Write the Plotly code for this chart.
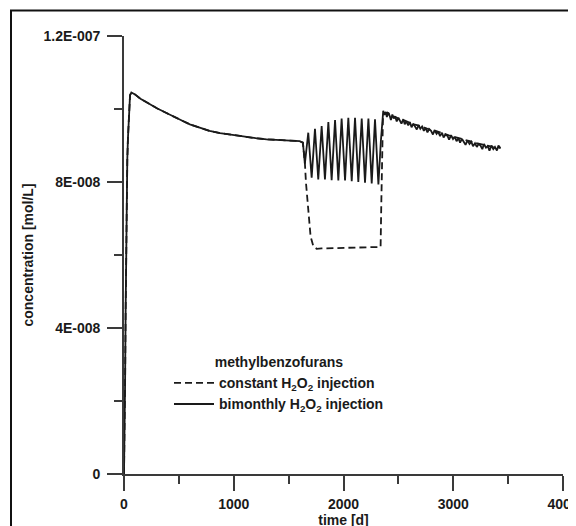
import plotly.graph_objects as go

UNIT = 1e-8  # values below are in 1e-8 mol/L

# shared start: rise and slow decay (days, 1e-8 mol/L)
t_common = [0, 5, 10, 15, 20, 25, 30, 36, 46, 55, 67, 100, 150, 235, 300, 387, 450, 536,
            600, 690, 780, 875, 1000, 1100, 1200, 1300, 1400, 1500, 1600, 1630]
c_common = [0.0, 1.0, 2.5, 4.5, 6.5, 7.8, 8.6, 9.2, 10.15, 10.38, 10.45, 10.40, 10.28, 10.13,
            10.02, 9.89, 9.79, 9.67, 9.58, 9.48, 9.40, 9.34, 9.28, 9.24, 9.20, 9.17, 9.15,
            9.13, 9.12, 9.08]

# bimonthly injection: oscillation phase
t_osc = [1648, 1679, 1710, 1740, 1770, 1801, 1831, 1862, 1892, 1923, 1953, 1983, 2014, 2044,
         2075, 2105, 2135, 2166, 2196, 2227, 2257, 2287, 2318, 2340]
c_osc = [8.50, 9.35, 8.12, 9.46, 8.07, 9.53, 8.07, 9.64, 8.05, 9.70, 8.04, 9.74, 8.04, 9.76,
         8.02, 9.76, 8.00, 9.74, 7.98, 9.74, 7.96, 9.72, 7.93, 9.10]

# bimonthly injection: after stop (irregular)
t_tail = [2362, 2372, 2385, 2395, 2408, 2420, 2432, 2445, 2458, 2470, 2485, 2500, 2512, 2528,
          2545, 2558, 2572, 2590, 2605, 2620, 2636, 2650, 2668, 2685, 2700, 2716, 2732, 2748,
          2765, 2780, 2798, 2815, 2830, 2848, 2862, 2880, 2898, 2912, 2930, 2948, 2962, 2980,
          2998, 3012, 3030, 3048, 3062, 3080, 3098, 3112, 3130, 3148, 3165, 3180, 3198, 3215,
          3230, 3248, 3265, 3280, 3298, 3315, 3330, 3348, 3365, 3380, 3398, 3412, 3430]
c_tail = [9.95, 9.84, 9.92, 9.78, 9.90, 9.82, 9.70, 9.85, 9.74, 9.80, 9.66, 9.76, 9.70, 9.60,
          9.72, 9.58, 9.66, 9.55, 9.64, 9.50, 9.60, 9.52, 9.44, 9.56, 9.46, 9.52, 9.40, 9.48,
          9.36, 9.45, 9.40, 9.30, 9.42, 9.32, 9.38, 9.26, 9.35, 9.22, 9.30, 9.26, 9.16, 9.28,
          9.18, 9.24, 9.12, 9.20, 9.08, 9.18, 9.10, 9.02, 9.14, 9.04, 9.10, 8.98, 9.06, 8.96,
          9.04, 9.00, 8.90, 9.04, 8.94, 8.98, 8.86, 9.00, 8.90, 8.96, 8.86, 9.00, 8.92]

# constant injection: drop, plateau, recovery
t_const = [1648, 1658, 1670, 1685, 1700, 1725, 1755, 1800, 1900, 2000, 2100, 2200, 2300, 2338,
           2345, 2352, 2360, 2400, 2440, 2480, 2520, 2560, 2600, 2640, 2680, 2720, 2760, 2800,
           2840, 2880, 2920, 2960, 3000, 3040, 3080, 3120, 3160, 3200, 3240, 3280, 3320, 3360,
           3400, 3430]
c_const = [8.53, 7.98, 7.52, 6.97, 6.51, 6.24, 6.17, 6.18, 6.19, 6.20, 6.21, 6.22, 6.22, 6.22,
           7.50, 9.00, 9.85, 9.90, 9.80, 9.77, 9.70, 9.68, 9.62, 9.58, 9.55, 9.50, 9.47, 9.42,
           9.40, 9.35, 9.32, 9.28, 9.25, 9.21, 9.18, 9.14, 9.11, 9.07, 9.05, 9.01, 8.99, 8.96,
           8.95, 8.94]

x_ticks = [0, 1000, 2000, 3000, 4000]
x_ticktext = ["0", "1000", "2000", "3000", "4000"]
x_minor = [500, 1500, 2500, 3500]
y_ticks = [0, 4e-8, 8e-8, 1.2e-7]
y_ticktext = ["0", "4E-008", "8E-008", "1.2E-007"]
y_minor = [2e-8, 6e-8, 1e-7]

FONT = "Liberation Sans, Arial, sans-serif"
INK = "#1a1a1a"
AX = "#3a3a3a"

t_const_full = t_common + t_const
c_const_full = [v * UNIT for v in c_common + c_const]
t_bi_full = t_common + t_osc + t_tail
c_bi_full = [v * UNIT for v in c_common + c_osc + c_tail]

SUB = '<sub>2</sub>'
fig = go.Figure()
fig.add_trace(go.Scatter(x=t_const_full, y=c_const_full, mode="lines",
                         name=f"constant H{SUB}O{SUB} injection",
                         line=dict(color=INK, width=1.8, dash="7px,4px")))
fig.add_trace(go.Scatter(x=t_bi_full, y=c_bi_full, mode="lines",
                         name=f"bimonthly H{SUB}O{SUB} injection",
                         line=dict(color=INK, width=1.8)))

# page body adds an 8px offset; margins compensate for it
L, R, T, B = 116, 21, 28, 60
W, H = 576, 526
pw, ph = W - L - R, H - T - B


def px(x):
    return (x - L) / pw


def py(y):
    return (H - B - y) / ph


fig.add_shape(type="rect", xref="paper", yref="paper",
              x0=px(3), x1=px(700), y0=py(700), y1=py(2.5),
              line=dict(color="#111111", width=2), fillcolor="rgba(0,0,0,0)", layer="above")

tickfont = dict(family=FONT, size=14, color=INK, weight="bold")

fig.update_layout(
    width=W, height=H,
    margin=dict(l=L, r=R, t=T, b=B, pad=0, autoexpand=False),
    paper_bgcolor="white", plot_bgcolor="white",
    font=dict(family=FONT, size=14, color=INK, weight="bold"),
    showlegend=True,
    legend=dict(x=px(161), y=py(341), xanchor="left", yanchor="top",
                bgcolor="rgba(0,0,0,0)", borderwidth=0,
                font=dict(family=FONT, size=14, color=INK, weight="bold"),
                title=dict(text="methylbenzofurans", side="top center",
                           font=dict(family=FONT, size=14, color=INK, weight="bold")),
                itemwidth=40, tracegroupgap=0),
    xaxis=dict(range=[0, 4000], showgrid=False, zeroline=False, automargin=False,
               showline=True, linecolor=AX, linewidth=1.6,
               ticks="outside", ticklen=15, tickwidth=1.6, tickcolor=AX,
               tickvals=x_ticks, ticktext=x_ticktext, tickfont=tickfont,
               ticklabelstandoff=1,
               minor=dict(tickvals=x_minor, ticks="outside", ticklen=8,
                          tickwidth=1.6, tickcolor=AX),
               title=dict(text="time [d]", font=tickfont, standoff=0)),
    yaxis=dict(range=[0, 1.2e-7], showgrid=False, zeroline=False, automargin=False,
               showline=True, linecolor=AX, linewidth=1.6,
               ticks="outside", ticklen=15, tickwidth=1.6, tickcolor=AX,
               tickvals=y_ticks, ticktext=y_ticktext, tickfont=tickfont,
               ticklabelstandoff=4,
               minor=dict(tickvals=y_minor, ticks="outside", ticklen=8,
                          tickwidth=1.6, tickcolor=AX),
               title=dict(text="concentration [mol/L]", font=tickfont, standoff=7)),
)

fig.write_html("out.html")
